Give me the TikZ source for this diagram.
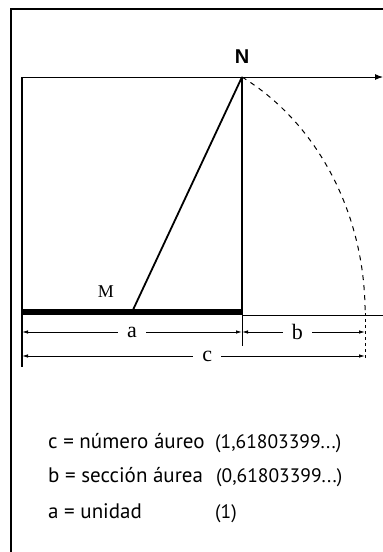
\documentclass[tikz,border=0pt]{standalone}
\usepackage{fontspec}
\setmainfont{Liberation Serif}
\newfontfamily\legfont{PT Sans}
\newfontfamily\boldsans{Liberation Sans}
\usetikzlibrary{arrows.meta}
\tikzset{
  frame/.style={line width=2pt},
  edge/.style={line width=1.8pt},
  thinline/.style={line width=1pt},
  dimline/.style={line width=0.9pt,{Latex[length=6pt,width=3.5pt]}-{Latex[length=6pt,width=3.5pt]}},
  dimlab/.style={fill=white,inner xsep=9pt,inner ysep=1pt,font=\fontsize{22}{22}\selectfont},
  legend/.style={anchor=base west,inner sep=0pt,font=\legfont\fontsize{21}{21}\selectfont},
  legval/.style={anchor=base west,inner sep=0pt,font=\legfont\fontsize{19.5}{19.5}\selectfont}
}
\begin{document}
\begin{tikzpicture}[x=1pt,y=-1pt]
\useasboundingbox (0,0) rectangle (383,552);
% outer frame
\coordinate (F0) at (11,552);
\coordinate (F1) at (11,9);
\coordinate (F2) at (383,9);
\draw[frame] (F0) -- (F1) -- (F2);
% construction
\coordinate (TL) at (22,77);
\coordinate (N) at (242,77);
\coordinate (AR) at (383,77);
\coordinate (LB) at (22,367);
\coordinate (BL) at (22,312);
\coordinate (BR) at (242,312);
\coordinate (BR2) at (242,315);
\coordinate (M) at (132,312);
\coordinate (E) at (383,315);
\coordinate (BT) at (242,346);
\coordinate (CE) at (365,313);
\coordinate (CB) at (365,358);
\draw[thinline,-{Latex[length=8pt,width=6pt]}] (TL) -- (AR);
\draw[edge] (TL) -- (LB);
\draw[edge] (N) -- (BR);
\draw[thinline] (BR) -- (BT);
\draw[thinline] (BR2) -- (E);
\draw[line width=6pt] (BL) -- (BR);
\draw[edge] (M) -- (N);
\draw[thinline,dash pattern=on 5pt off 5pt] (N) arc[start angle=62, end angle=0, x radius=232, y radius=-267];
\draw[thinline,dash pattern=on 3pt off 3pt] (CE) -- (CB);
% labels
\node[font=\boldsans\bfseries\fontsize{20}{20}\selectfont] (Nlab) at (242,57) {N};
\node[font=\fontsize{18}{18}\selectfont] (Mlab) at (106,292) {M};
% dimensions
\coordinate (A0) at (22,332);
\coordinate (A1) at (242,332);
\coordinate (B1) at (365,332);
\coordinate (C0) at (22,356);
\coordinate (C1) at (365,356);
\draw[dimline] (A0) -- node[dimlab,pos=0.5] (alab) {a} (A1);
\draw[dimline] (A1) -- node[dimlab,pos=0.45] (blab) {b} (B1);
\draw[dimline] (C0) -- node[dimlab,pos=0.54] (clab) {c} (C1);
% legend
\node[legend] (l1) at (48,448) {c = número áureo};
\node[legval] (l1v) at (215,448) {(1,61803399...)};
\node[legend] (l2) at (48,482) {b = sección áurea};
\node[legval] (l2v) at (216,482) {(0,61803399...)};
\node[legend] (l3) at (48,518) {a = unidad};
\node[legval] (l3v) at (215,518) {(1)};
\end{tikzpicture}
\end{document}
